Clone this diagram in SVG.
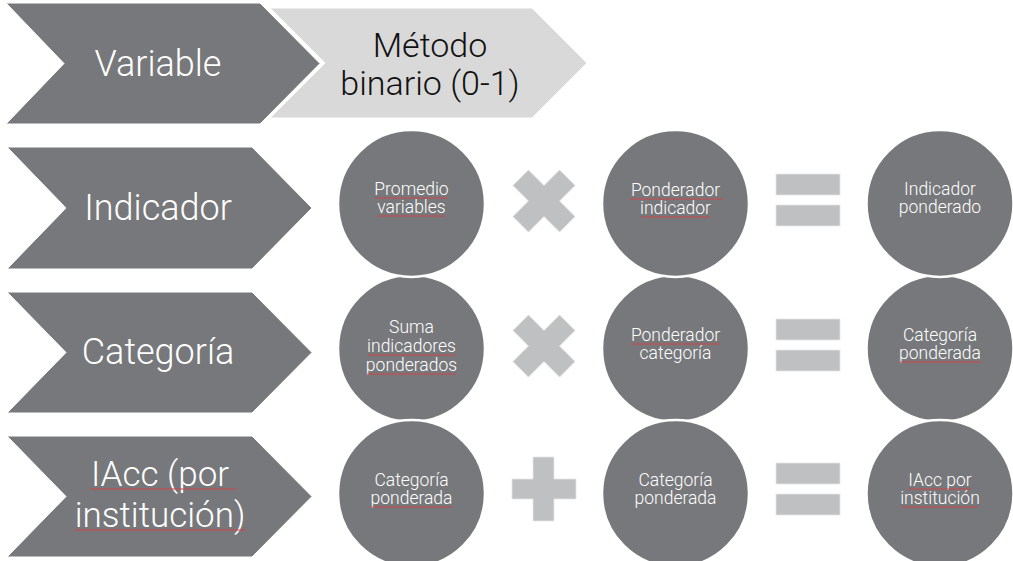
<svg xmlns="http://www.w3.org/2000/svg" width="1013" height="561" viewBox="0 0 1013 561">
<style>
.chev{fill:#77787b;stroke:#ffffff;stroke-width:1}
.chev2{fill:#d9d9d9;stroke:#ffffff;stroke-width:1}
.circ{fill:#77787b;stroke:#ffffff;stroke-width:2.5}
.op{fill:#bfc0c2;stroke:#e6e6e6;stroke-width:0.8}
.big{font-family:Roboto,"Liberation Sans",Arial,sans-serif;font-weight:300;font-size:36px;fill:#ffffff;text-anchor:middle}
.big3{font-family:Roboto,"Liberation Sans",Arial,sans-serif;font-weight:300;font-size:35px;fill:#ffffff;text-anchor:middle}
.big2{font-family:Roboto,"Liberation Sans",Arial,sans-serif;font-weight:300;font-size:34px;fill:#111111;text-anchor:middle}
.sm{font-family:Roboto,"Liberation Sans",Arial,sans-serif;font-weight:300;font-size:17.5px;fill:#ffffff;text-anchor:middle}
.ul{stroke:#d0454a;stroke-width:1.2;fill:none}
</style>
<defs>
<polygon id="xsign" points="-11,-33 11,-33 11,-11 33,-11 33,11 11,11 11,33 -11,33 -11,11 -33,11 -33,-11 -11,-11" transform="rotate(45)"/>
</defs>
<rect width="1013" height="561" fill="#ffffff"/>

<g id="chevron-variable">
<polygon class="chev" points="6,3 260,3 320,63.5 260,124 6,124 64,63.5"/>
<text class="big" x="158" y="76">Variable</text>
</g>
<g id="chevron-metodo">
<polygon class="chev2" points="270,8 532,8 587,63 532,118 270,118 325,63"/>
<text class="big2" x="430" y="57">Método</text>
<text class="big2" x="430" y="95">binario (0-1)</text>
</g>
<g id="chevron-indicador">
<polygon class="chev" points="7,147 252,147 312,208 252,269 7,269 66,208"/>
<text class="big" x="158" y="220">Indicador</text>
</g>
<g id="chevron-categoria">
<polygon class="chev" points="7,292 252,292 312,352.5 252,413 7,413 66,352.5"/>
<text class="big" x="158" y="364">Categoría</text>
</g>
<g id="chevron-iacc">
<polygon class="chev" points="7,436 252,436 312,496.5 252,557 7,557 66,496.5"/>
<text class="big3" x="160" y="486">IAcc (por </text>
<text class="big3" x="160" y="527">institución)</text>
<line class="ul" x1="90" y1="489" x2="237" y2="489"/>
<line class="ul" x1="74" y1="530" x2="246" y2="530"/>
</g>

<!-- row 3 circles (drawn beneath rows 2 and 4) -->
<g id="circle-suma">
<circle class="circ" cx="411.5" cy="348.5" r="73.5"/>
<text class="sm" x="411.5" y="333">Suma</text>
<text class="sm" x="411.5" y="352">indicadores</text>
<text class="sm" x="411.5" y="371">ponderados</text>
<line class="ul" x1="368" y1="355" x2="455" y2="355"/>
<line class="ul" x1="367" y1="374" x2="456" y2="374"/>
</g>
<g id="circle-ponderador-categoria">
<circle class="circ" cx="675.5" cy="348.5" r="73.5"/>
<text class="sm" x="675.5" y="341">Ponderador</text>
<text class="sm" x="675.5" y="359">categoría</text>
<line class="ul" x1="631" y1="344" x2="720" y2="344"/>
</g>
<g id="circle-categoria-ponderada">
<circle class="circ" cx="940" cy="348.5" r="73.5"/>
<text class="sm" x="940" y="341">Categoría</text>
<text class="sm" x="940" y="359">ponderada</text>
<line class="ul" x1="899.5" y1="362" x2="980.5" y2="362"/>
</g>

<!-- row 2 circles -->
<g id="circle-promedio">
<circle class="circ" cx="411.5" cy="203.5" r="73.5"/>
<text class="sm" x="411.5" y="195">Promedio</text>
<text class="sm" x="411.5" y="213">variables</text>
<line class="ul" x1="375" y1="198" x2="448" y2="198"/>
<line class="ul" x1="377.5" y1="216" x2="445.5" y2="216"/>
</g>
<g id="circle-ponderador-indicador">
<circle class="circ" cx="675.5" cy="203.5" r="73.5"/>
<text class="sm" x="675.5" y="196">Ponderador </text>
<text class="sm" x="675.5" y="214">indicador</text>
<line class="ul" x1="630" y1="199" x2="723" y2="199"/>
<line class="ul" x1="641" y1="217" x2="710" y2="217"/>
</g>
<g id="circle-indicador-ponderado">
<circle class="circ" cx="940" cy="203.5" r="73.5"/>
<text class="sm" x="940" y="195">Indicador</text>
<text class="sm" x="940" y="213">ponderado</text>
</g>

<!-- row 4 circles -->
<g id="circle-cat-pond-1">
<circle class="circ" cx="411.5" cy="493.5" r="73.5"/>
<text class="sm" x="411.5" y="486">Categoría</text>
<text class="sm" x="411.5" y="504">ponderada</text>
<line class="ul" x1="371" y1="507" x2="452" y2="507"/>
</g>
<g id="circle-cat-pond-2">
<circle class="circ" cx="675.5" cy="493.5" r="73.5"/>
<text class="sm" x="675.5" y="486">Categoría</text>
<text class="sm" x="675.5" y="504">ponderada</text>
</g>
<g id="circle-iacc-institucion">
<circle class="circ" cx="940" cy="493.5" r="73.5"/>
<text class="sm" x="940" y="486">IAcc por</text>
<text class="sm" x="940" y="504">institución</text>
<line class="ul" x1="909" y1="489" x2="971" y2="489"/>
<line class="ul" x1="902" y1="507" x2="978" y2="507"/>
</g>

<g id="operators">
<use href="#xsign" class="op" transform="translate(544,201)"/>
<use href="#xsign" class="op" transform="translate(544,346)"/>
<rect class="op" x="776" y="174" width="64" height="21"/>
<rect class="op" x="776" y="205" width="64" height="21"/>
<rect class="op" x="776" y="319" width="64" height="21"/>
<rect class="op" x="776" y="350" width="64" height="21"/>
<rect class="op" x="776" y="463" width="64" height="21"/>
<rect class="op" x="776" y="494" width="64" height="21"/>
<path class="op" d="M533,457 H554 V479 H576 V499 H554 V521 H533 V499 H512 V479 H533 Z"/>
</g>
</svg>
